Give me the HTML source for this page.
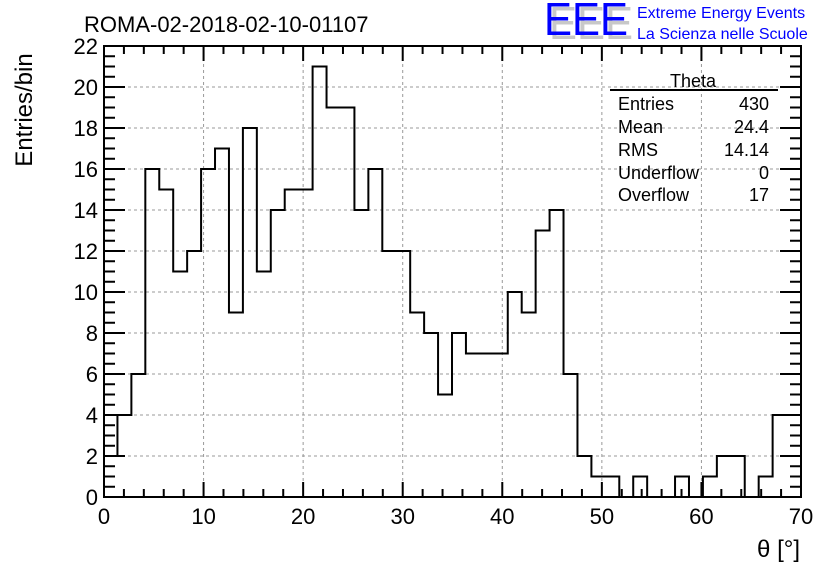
<!DOCTYPE html>
<html><head><meta charset="utf-8"><style>
html,body{margin:0;padding:0;background:#fff;}
svg{display:block;font-family:"Liberation Sans",sans-serif;}
</style></head><body>
<svg id="chart" width="836" height="572" viewBox="0 0 836 572">
<rect width="836" height="572" fill="#fff"/>
<g id="grid"></g>
<g id="ticks"></g>
<path id="hist" fill="none" stroke="#000" stroke-width="2"/>
<rect x="104" y="46" width="697" height="451" fill="none" stroke="#000" stroke-width="2"/>
<g id="labels" font-size="22"></g>
<text x="84" y="32" font-size="22">ROMA-02-2018-02-10-01107</text>
<text transform="translate(32,110) rotate(-90)" text-anchor="middle" font-size="24">Entries/bin</text>
<text x="800" y="557" text-anchor="end" font-size="24">θ [°]</text>
<g>
<text x="549" y="39" font-size="46" fill="#c8c8c8" textLength="84" lengthAdjust="spacingAndGlyphs">EEE</text>
<text x="544" y="35" font-size="46" fill="#0000ff" textLength="84" lengthAdjust="spacingAndGlyphs">EEE</text>
<text x="637" y="18" font-size="16" fill="#0000ff">Extreme Energy Events</text>
<text x="637" y="39" font-size="16" fill="#0000ff">La Scienza nelle Scuole</text>
</g>
<g font-size="18">
<text x="693" y="87" text-anchor="middle">Theta</text>
<line x1="610" y1="90" x2="778" y2="90" stroke="#000" stroke-width="2"/>
<text x="618" y="110">Entries</text><text x="769" y="110" text-anchor="end">430</text>
<text x="618" y="133">Mean</text><text x="769" y="133" text-anchor="end">24.4</text>
<text x="618" y="156">RMS</text><text x="769" y="156" text-anchor="end">14.14</text>
<text x="618" y="179">Underflow</text><text x="769" y="179" text-anchor="end">0</text>
<text x="618" y="201">Overflow</text><text x="769" y="201" text-anchor="end">17</text>
</g>
</svg>
<script>
const binStart = -0.05;
const binWidth = 1.4;
const counts = [2,4,6,16,15,11,12,16,17,9,18,11,14,15,15,21,19,19,14,16,12,12,9,8,5,8,7,7,7,10,9,13,14,6,2,1,1,0,1,0,0,1,0,1,2,2,0,1,4,4];
const xTicks = [0,10,20,30,40,50,60,70];
const yTicks = [0,2,4,6,8,10,12,14,16,18,20,22];
const X0=104,X1=801,Y0=497,Y1=46,XMIN=0,XMAX=70,YMAX=22;
const sx=v=>X0+(Math.min(Math.max(v,XMIN),XMAX)-XMIN)/(XMAX-XMIN)*(X1-X0);
const sy=v=>Y0-v/YMAX*(Y0-Y1);
const NS="http://www.w3.org/2000/svg";
function mk(tag,attrs,parent){const e=document.createElementNS(NS,tag);for(const k in attrs)e.setAttribute(k,attrs[k]);parent.appendChild(e);return e;}
const grid=document.getElementById('grid'),ticks=document.getElementById('ticks'),labels=document.getElementById('labels');
xTicks.forEach(t=>{
  if(t>XMIN&&t<XMAX){const l=mk('line',{x1:sx(t),x2:sx(t),y1:Y1,y2:Y0,stroke:'#999','stroke-dasharray':'3,3'},grid);
  
  }
  const tx=mk('text',{x:sx(t),y:Y0+27,'text-anchor':'middle'},labels);tx.textContent=t;
  
  
});
yTicks.forEach(t=>{
  if(t>0&&t<YMAX){const l=mk('line',{x1:X0,x2:X1,y1:sy(t),y2:sy(t),stroke:'#999','stroke-dasharray':'3,3'},grid);
  
  }
  const tx=mk('text',{x:X0-6,y:sy(t)+8,'text-anchor':'end'},labels);tx.textContent=t;
  
  
});
let d='';
for(let v=XMIN;v<=XMAX+1e-9;v+=2){const L=(Math.round(v)%10===0)?15:8;
  d+=`M${sx(v)},${Y0}v${-L}M${sx(v)},${Y1}v${L}`;}
for(let v=0;v<=YMAX+1e-9;v+=0.5){const L=(Math.abs(v%2)<1e-9)?21:11;
  d+=`M${X0},${sy(v)}h${L}M${X1},${sy(v)}h${-L}`;}
mk('path',{d:d,stroke:'#000','stroke-width':2,fill:'none'},ticks);
let p='';
counts.forEach((c,i)=>{
  const a=sx(binStart+i*binWidth),b=sx(binStart+(i+1)*binWidth);
  if(i===0)p+=`M${a},${sy(c)}`;else p+=`L${a},${sy(c)}`;
  p+=`L${b},${sy(c)}`;
});
document.getElementById('hist').setAttribute('d',p);
</script>
</body></html>
